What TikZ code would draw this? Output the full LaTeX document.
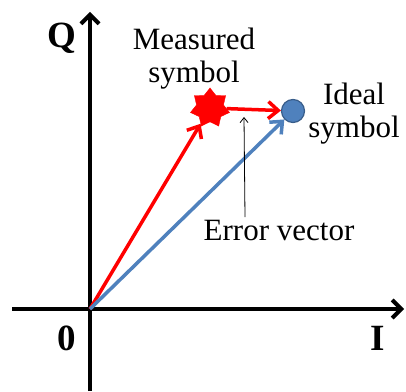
\documentclass[tikz,border=0pt]{standalone}
\usepackage{fontspec}
\setmainfont{Liberation Serif}
\usetikzlibrary{arrows.meta,shapes.geometric}
\definecolor{idealblue}{RGB}{79,129,189}
\definecolor{idealedge}{RGB}{56,93,138}

\begin{document}
\begin{tikzpicture}[x=1pt, y=1pt, font=\fontsize{31}{33}\selectfont,
    axis/.style={line width=4pt, -{Straight Barb[length=9pt,width=18pt,line width=4pt]}},
    vec/.style={line width=3.5pt, -{Straight Barb[length=10pt,width=17pt,line width=3.5pt]}},
    axlabel/.style={font=\fontsize{37}{40}\selectfont\bfseries}]
    \useasboundingbox (0,0) rectangle (406,391);
    % Axes
    \coordinate (O) at (90,82);
    \coordinate (Istart) at (12,82);
    \coordinate (Iend) at (404,82);
    \coordinate (Qstart) at (90,0);
    \coordinate (Qend) at (90,379);
    \draw [axis] (Istart) -- (Iend);
    \draw [axis] (Qstart) -- (Qend);
    \node [axlabel] (qlab) at (62,353) {Q};
    \node [axlabel] (zlab) at (67,53) {0};
    \node [axlabel] (ilab) at (378,53) {I};
    % Symbols
    \node [star, star points=7, star point ratio=1.45, minimum size=40pt, inner sep=0pt,
        fill=red, draw=red] (meas) at (210,283) {};
    \node [circle, minimum size=23pt, inner sep=0pt, fill=idealblue, draw=idealedge,
        line width=1.2pt] (ideal) at (293,280) {};
    \draw [vec, red] (O) -- (meas);
    \draw [vec, idealblue] (O) -- (ideal);
    \draw [vec, red] (meas) -- (ideal);
    % Labels
    \node [align=center] (mlab) at (194,332) {Measured\\symbol};
    \node [align=center] (ilabel) at (354,277) {Ideal\\symbol};
    \node (elab) at (279,160) {Error vector};
    \coordinate (etip) at (244,274);
    \draw [-{Straight Barb[length=5pt,width=8pt]}, line width=0.8pt] (elab.north -| 245,0) -- (etip);
\end{tikzpicture}
\end{document}
